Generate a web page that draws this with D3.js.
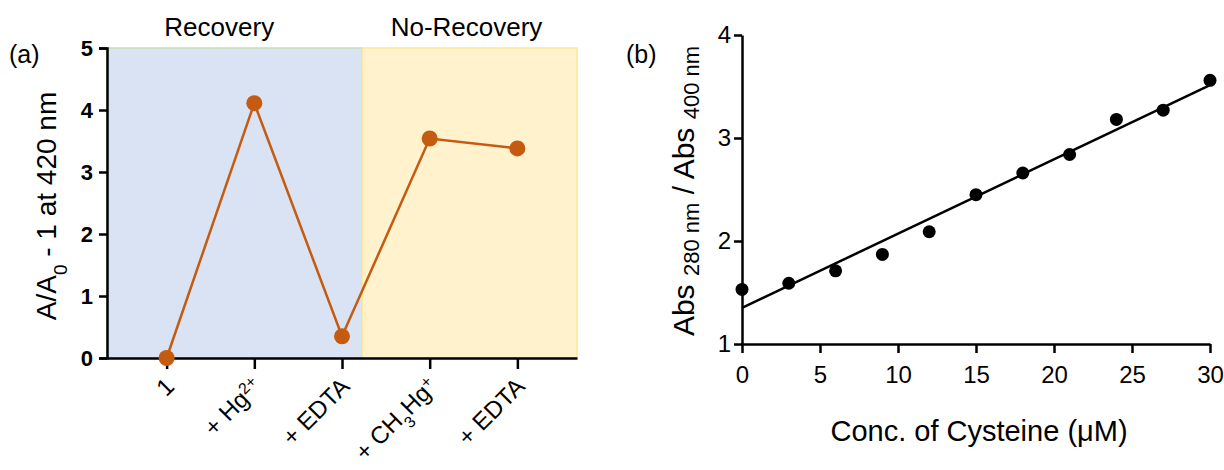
<!DOCTYPE html>
<html>
<head>
<meta charset="utf-8">
<script src="https://cdn.jsdelivr.net/npm/d3@7"></script>
<style>
  body { margin: 0; background: #fff; }
  svg { font-family: "Liberation Sans", Arial, sans-serif; }
</style>
</head>
<body>
<svg id="chart" width="1224" height="470"></svg>
<script>
// panel (a) data
const steps = ["1", "+ Hg2+", "+ EDTA", "+ CH3Hg+", "+ EDTA "];
const ratio = [0.0, 4.11, 0.35, 3.54, 3.38];
const yTicksA = [0, 1, 2, 3, 4, 5];
// shaded regions, in category-index units
const regions = [
  { name: "Recovery", from: -0.68, to: 2.23, fill: "#dae3f3", stroke: "#c5e0b4" },
  { name: "No-Recovery", from: 2.23, to: 4.68, fill: "#fff2cc", stroke: "#ffe699" }
];
const regionLabelAt = [0.6, 3.42];

// panel (b) data
const cys = [0, 3, 6, 9, 12, 15, 18, 21, 24, 27, 30];
const absRatio = [1.53, 1.59, 1.71, 1.87, 2.09, 2.45, 2.66, 2.84, 3.18, 3.27, 3.56];
const xTicksB = [0, 5, 10, 15, 20, 25, 30];
const yTicksB = [1, 2, 3, 4];

const svg = d3.select("#chart");
const orange = "#c55a11";

// ---------- panel (a) ----------
const xa = d3.scalePoint().domain(steps).range([107, 577]).padding(0.68);
const idx = d3.scaleLinear().domain([0, 4]).range([xa(steps[0]), xa(steps[4])]);
const ya = d3.scaleLinear().domain([0, 5]).range([358, 48]);

const ga = svg.append("g");

ga.selectAll("rect.region")
  .data(regions)
  .enter()
  .append("rect")
  .attr("class", "region")
  .attr("x", d => idx(d.from))
  .attr("y", ya(5))
  .attr("width", d => idx(d.to) - idx(d.from))
  .attr("height", ya(0) - ya(5))
  .attr("fill", d => d.fill)
  .attr("stroke", d => d.stroke)
  .attr("stroke-width", 1.5);

ga.selectAll("text.region")
  .data(regions)
  .enter()
  .append("text")
  .attr("x", (d, i) => idx(regionLabelAt[i]))
  .attr("y", 36)
  .attr("text-anchor", "middle")
  .style("font-size", "26px")
  .text(d => d.name);

// axes
const yAxisA = d3.axisLeft(ya).tickValues(yTicksA).tickFormat(d3.format("d")).tickSize(8).tickPadding(6);
const gya = ga.append("g").attr("transform", "translate(107,0)").call(yAxisA);
gya.select(".domain").attr("stroke-width", 2.5);
gya.selectAll(".tick line").attr("stroke-width", 2.5);
gya.selectAll(".tick text").style("font-size", "22px").style("font-weight", "bold").attr("fill", "#000");

const xAxisA = d3.axisBottom(xa).tickSize(11).tickSizeOuter(0).tickFormat("");
const gxa = ga.append("g").attr("transform", "translate(0,358)").call(xAxisA);
gxa.select(".domain").attr("stroke-width", 2.5);
gxa.selectAll(".tick line").attr("stroke-width", 2.5);

// rotated category labels with sub/superscripts
const labelParts = {
  "1": [["1", ""]],
  "+ Hg2+": [["+ Hg", ""], ["2+", "sup"]],
  "+ EDTA": [["+ EDTA", ""]],
  "+ CH3Hg+": [["+ CH", ""], ["3", "sub"], ["Hg", ""], ["+", "sup"]],
  "+ EDTA ": [["+ EDTA", ""]]
};
steps.forEach(s => {
  const t = ga.append("text")
    .attr("transform", `translate(${xa(s) + 9},${358 + 30}) rotate(-45)`)
    .attr("text-anchor", "end")
    .style("font-size", "24px");
  labelParts[s].forEach(([txt, kind]) => {
    const sp = t.append("tspan").text(txt);
    if (kind === "sup") sp.attr("baseline-shift", "super").style("font-size", "16px");
    if (kind === "sub") sp.attr("baseline-shift", "sub").style("font-size", "16px");
  });
});

// line and markers
const lineA = d3.line().x((d, i) => xa(steps[i])).y(d => ya(d));
ga.append("path")
  .datum(ratio)
  .attr("d", lineA)
  .attr("fill", "none")
  .attr("stroke", orange)
  .attr("stroke-width", 2.5);
ga.selectAll("circle")
  .data(ratio)
  .enter()
  .append("circle")
  .attr("cx", (d, i) => xa(steps[i]))
  .attr("cy", d => ya(d))
  .attr("r", 8)
  .attr("fill", orange);

// y label
const yla = ga.append("text")
  .attr("transform", "translate(56,206) rotate(-90)")
  .attr("text-anchor", "middle")
  .style("font-size", "28px");
yla.append("tspan").text("A/A");
yla.append("tspan").text("0").attr("baseline-shift", "sub").style("font-size", "19px");
yla.append("tspan").text(" - 1 at 420 nm");

svg.append("text").attr("x", 9).attr("y", 63).style("font-size", "25px").text("(a)");

// ---------- panel (b) ----------
const xb = d3.scaleLinear().domain([0, 30]).range([742, 1210]);
const yb = d3.scaleLinear().domain([1, 4]).range([344, 35]);
const gb = svg.append("g");

const yAxisB = d3.axisLeft(yb).tickValues(yTicksB).tickFormat(d3.format("d")).tickSize(8).tickSizeOuter(0).tickPadding(3);
const gyb = gb.append("g").attr("transform", "translate(742,0)").call(yAxisB);
gyb.select(".domain").attr("stroke-width", 2.5);
gyb.selectAll(".tick line").attr("stroke-width", 2.5);
gyb.selectAll(".tick text").style("font-size", "24px").attr("fill", "#000");

const xAxisB = d3.axisBottom(xb).tickValues(xTicksB).tickFormat(d3.format("d")).tickSize(9).tickSizeOuter(0).tickPadding(13);
const gxb = gb.append("g").attr("transform", "translate(0,344)").call(xAxisB);
gxb.select(".domain").attr("stroke-width", 2.5);
gxb.selectAll(".tick line").attr("stroke-width", 2.5);
gxb.selectAll(".tick text").style("font-size", "24px").attr("fill", "#000");

// least-squares fit from the points
const mx = d3.mean(cys), my = d3.mean(absRatio);
const slope = d3.sum(cys, (x, i) => (x - mx) * (absRatio[i] - my)) / d3.sum(cys, x => (x - mx) ** 2);
const icpt = my - slope * mx;
gb.append("line")
  .attr("x1", xb(0)).attr("y1", yb(icpt))
  .attr("x2", xb(30)).attr("y2", yb(icpt + slope * 30))
  .attr("stroke", "#000")
  .attr("stroke-width", 2.5);

gb.selectAll("circle")
  .data(cys)
  .enter()
  .append("circle")
  .attr("cx", d => xb(d))
  .attr("cy", (d, i) => yb(absRatio[i]))
  .attr("r", 6.5)
  .attr("fill", "#000");

const ylb = gb.append("text")
  .attr("transform", "translate(694,191) rotate(-90)")
  .attr("text-anchor", "middle")
  .style("font-size", "30px");
ylb.append("tspan").text("Abs ");
ylb.append("tspan").text("280 nm").attr("dy", 5).style("font-size", "22px");
ylb.append("tspan").text(" / Abs ").attr("dy", -5);
ylb.append("tspan").text("400 nm").attr("dy", 5).style("font-size", "22px");

gb.append("text")
  .attr("x", 979)
  .attr("y", 441)
  .attr("text-anchor", "middle")
  .style("font-size", "29px")
  .text("Conc. of Cysteine (\u03bcM)");

svg.append("text").attr("x", 626).attr("y", 63).style("font-size", "25px").text("(b)");
</script>
</body>
</html>
